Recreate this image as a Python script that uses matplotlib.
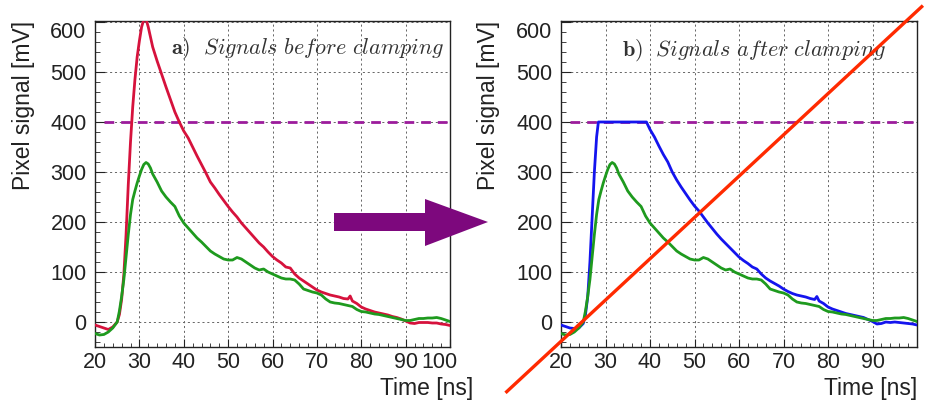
import matplotlib
matplotlib.use("Agg")
import matplotlib.pyplot as plt
import matplotlib.patches as patches
from matplotlib.lines import Line2D
from matplotlib.ticker import MultipleLocator, FuncFormatter

plt.rcParams['font.family'] = ['Liberation Sans', 'DejaVu Sans']
plt.rcParams['mathtext.fontset'] = 'cm'
plt.rcParams['lines.scale_dashes'] = False

# signal before clamping (red), panel a
red_t = [20, 21, 22, 23, 24, 25, 25.5, 26, 26.5, 27, 27.5, 28, 28.5, 29, 29.5, 30, 30.5, 31, 31.5,
         32, 32.5, 33, 34, 35, 36, 37, 38, 39, 40, 41, 42, 43, 44, 45, 46, 47, 48, 49, 50,
         51, 52, 53, 54, 55, 56, 57, 58, 59, 60, 61, 62, 63, 64, 65, 66, 67, 68, 69, 70,
         71, 72, 73, 74, 75, 76, 77, 77.5, 78, 79, 80, 81, 82, 83, 84, 85, 86, 87, 88, 89, 90,
         91, 92, 93, 94, 95, 96, 97, 98, 99, 100]
red_v = [-6, -9, -12, -15, -10, 0, 15, 45, 95, 175, 275, 360, 430, 485, 530, 562, 590, 605, 606,
         590, 570, 550, 522, 496, 470, 445, 420, 400, 382, 368, 350, 332, 315, 298, 280, 268, 255, 243, 231,
         220, 210, 198, 188, 178, 168, 158, 150, 140, 131, 124, 118, 110, 108, 96, 88, 82, 76, 70, 64,
         60, 57, 54, 52, 50, 47, 46, 52, 42, 37, 30, 26, 23, 20, 18, 16, 14, 11, 9, 6, 2,
         -2, -3, -1, -1, -1, -2, -2, -4, -5, -7]

# signal after clamping (blue), panel b
blue_t = [20, 21, 22, 23, 24, 25, 25.5, 26, 26.5, 27, 27.5, 28, 28.4, 30, 32, 34, 36, 38, 39.2,
          40, 41, 42, 43, 44, 45, 46, 47, 48, 49, 50,
          51, 52, 53, 54, 55, 56, 57, 58, 59, 60, 61, 62, 63, 64, 65, 66, 67, 68, 69, 70,
          71, 72, 73, 74, 75, 76, 77, 77.5, 78, 79, 80, 81, 82, 83, 84, 85, 86, 87, 88, 89, 90,
          91, 92, 93, 94, 95, 96, 97, 98, 99, 100]
blue_v = [-6, -9, -12, -13, -12, -3, 15, 50, 120, 210, 300, 370, 400, 400, 400, 400, 400, 400, 400,
          385, 370, 352, 335, 320, 300, 284, 270, 257, 244, 232,
          222, 210, 198, 187, 176, 166, 157, 148, 139, 130, 123, 117, 110, 106, 96, 88, 82, 77, 72, 66,
          61, 57, 54, 52, 50, 47, 45, 51, 42, 37, 30, 26, 23, 20, 17, 15, 13, 11, 9, 5, 1,
          -4, -3, 0, -1, 0, -1, -2, -3, -4, -6]

# small signal (green), same in both panels
green_t = [20, 21, 22, 23, 24, 25, 25.5, 26, 26.5, 27, 27.5, 28, 28.5, 29, 29.5, 30, 30.5, 31, 31.5,
           32, 32.5, 33, 34, 35, 36, 37, 38, 39, 40, 41, 42, 43, 44, 45, 46, 47, 48, 49, 50,
           51, 52, 53, 54, 55, 56, 57, 58, 59, 60, 61, 62, 63, 64, 65, 66, 67, 68, 69, 70,
           71, 72, 73, 74, 75, 76, 77, 78, 79, 80, 81, 82, 83, 84, 85, 86, 87, 88, 89, 90,
           91, 92, 93, 94, 95, 96, 97, 98, 99, 100]
green_v = [-23, -26, -25, -20, -12, 0, 22, 51, 85, 130, 175, 215, 245, 262, 278, 292, 305, 315, 319,
           316, 308, 296, 280, 262, 250, 240, 231, 212, 198, 188, 178, 168, 160, 151, 142, 136, 131, 126, 124,
           124, 129, 126, 120, 114, 108, 104, 106, 100, 96, 92, 88, 86, 86, 84, 76, 66, 63, 60, 58,
           54, 46, 40, 38, 37, 35, 33, 31, 25, 21, 20, 18, 16, 15, 13, 11, 9, 7, 5, 3,
           3, 5, 7, 7, 8, 8, 9, 7, 4, 1]

clamp_level = 400
x_ticks = [20, 30, 40, 50, 60, 70, 80, 90, 100]
y_ticks = [0, 100, 200, 300, 400, 500, 600]

c_red = '#d6123c'
c_green = '#1e9a1e'
c_blue = '#1414ee'
c_dash = '#9c1c9c'

fig = plt.figure(figsize=(9.3, 4.01), dpi=100)
ax_a = fig.add_axes([95 / 930, 1 - 347 / 401, 355 / 930, 326 / 401])
ax_b = fig.add_axes([561 / 930, 1 - 347 / 401, 356 / 930, 326 / 401])


def hide_edge(edge):
    return FuncFormatter(lambda v, p: '' if abs(v - edge) < 1e-6 else '%d' % v)


for ax, label_x in [(ax_a, 1.066), (ax_b, 1.0)]:
    ax.set_xlim(20, 100)
    ax.set_ylim(-50, 602)
    ax.set_yticks(y_ticks)
    ax.yaxis.set_major_formatter(hide_edge(600))
    ax.xaxis.set_minor_locator(MultipleLocator(2))
    ax.yaxis.set_minor_locator(MultipleLocator(20))
    ax.tick_params(which='both', direction='in', top=False, right=False, labelsize=15.5,
                   colors='#222222')
    ax.tick_params(axis='y', which='major', length=7, pad=6)
    ax.tick_params(axis='y', which='minor', length=3.5)
    ax.tick_params(axis='x', which='major', length=6, pad=3.5)
    ax.tick_params(axis='x', which='minor', length=3)
    ax.grid(True, which='major', color='#666666', linestyle=(0, (1.5, 2)), linewidth=0.7)
    for s in ax.spines.values():
        s.set_linewidth(1.0)
        s.set_color('#222222')
    ax.plot([22, 100], [clamp_level, clamp_level], color=c_dash, linewidth=2, dashes=(7, 5), zorder=3)
    ax.set_ylabel('Pixel signal [mV]', fontsize=16.5, loc='top', color='#222222')
    ax.set_xlabel('Time [ns]', fontsize=16.5, loc='right', color='#222222')
    ax.xaxis.label.set_va('center')
    ax.xaxis.set_label_coords(label_x, -0.127)
    ax.yaxis.set_label_coords(-0.17, 1.0)
    # top y label, shifted down like in the original
    ax.annotate('600', xy=(0, 600), xycoords=('axes fraction', 'data'), xytext=(-8.5, -10),
                textcoords='offset pixels', ha='right', va='center', fontsize=15.5, color='#222222')

ax_a.set_xticks(x_ticks)
ax_a.xaxis.set_major_formatter(hide_edge(100))
ax_a.annotate('100', xy=(100, 0), xycoords=('data', 'axes fraction'), xytext=(-11, -5),
              textcoords='offset pixels', ha='center', va='top', fontsize=15.5, color='#222222')
ax_b.set_xticks(x_ticks[:-1])

ax_a.plot(red_t, red_v, color=c_red, linewidth=2, zorder=4)
ax_a.plot(green_t, green_v, color=c_green, linewidth=2, zorder=4)
ax_b.plot(blue_t, blue_v, color=c_blue, linewidth=2, zorder=4)
ax_b.plot(green_t, green_v, color=c_green, linewidth=2, zorder=4)

ax_a.text(0.6, 0.917, r'$\mathbf{a)}\ \ \mathit{Signals\ before\ clamping}$', transform=ax_a.transAxes,
          ha='center', va='center', fontsize=16, color='#333333')
ax_b.text(0.541, 0.91, r'$\mathbf{b)}\ \ \mathit{Signals\ after\ clamping}$', transform=ax_b.transAxes,
          ha='center', va='center', fontsize=16, color='#333333')

# purple arrow between the panels
W, H = 930.0, 401.0
arrow_px = [(334, 213), (425, 213), (425, 199), (488, 222), (425, 246), (425, 231), (334, 231)]
arrow = patches.Polygon([(x / W, 1 - y / H) for x, y in arrow_px], closed=True,
                        transform=fig.transFigure, facecolor='#7d087d', edgecolor='none', zorder=10)
fig.patches.append(arrow)

# red cross-out line over panel b
fig.lines.append(Line2D([506.7 / W, 921.7 / W], [1 - 391.7 / H, 1 - 6.7 / H], transform=fig.transFigure,
                        color='#ff2a00', linewidth=2.4, zorder=20))

fig.savefig('out.png', dpi=100)
